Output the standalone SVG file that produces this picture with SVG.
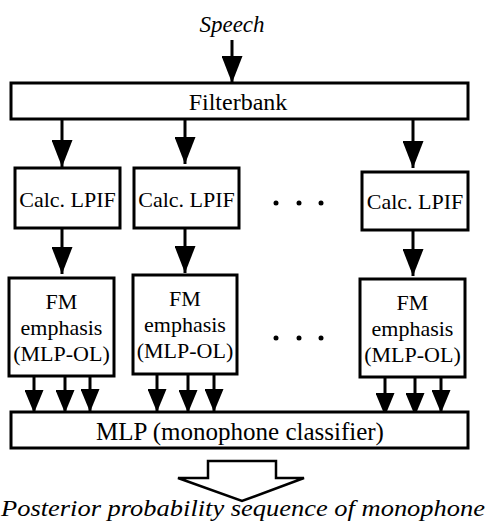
<svg xmlns="http://www.w3.org/2000/svg" width="486" height="524" viewBox="0 0 486 524">
<style>
.box{fill:#fff;stroke:#000;stroke-width:3}
.ln{stroke:#000;stroke-width:3;fill:none}
.t{font-family:'Liberation Serif','DejaVu Serif',serif;fill:#000;text-anchor:middle}
.dot{fill:#000}
</style>
<defs>
<marker id="ah" markerUnits="userSpaceOnUse" markerWidth="27" markerHeight="21" viewBox="0 0 27 21" refX="27" refY="10.5" orient="auto">
<path d="M0,0 L27,10.5 L0,21 Z" fill="#000"/>
</marker>
<marker id="as" markerUnits="userSpaceOnUse" markerWidth="23" markerHeight="19" viewBox="0 0 23 19" refX="23" refY="9.5" orient="auto">
<path d="M0,0 L23,9.5 L0,19 Z" fill="#000"/>
</marker>
</defs>
<g id="connectors">
<line class="ln" x1="232" y1="40" x2="232" y2="83" marker-end="url(#ah)"/>
<line class="ln" x1="62" y1="119" x2="62" y2="167" marker-end="url(#ah)"/>
<line class="ln" x1="185" y1="119" x2="185" y2="164" marker-end="url(#ah)"/>
<line class="ln" x1="413" y1="119" x2="413" y2="168" marker-end="url(#ah)"/>
<line class="ln" x1="62" y1="228" x2="62" y2="274" marker-end="url(#ah)"/>
<line class="ln" x1="185" y1="228" x2="185" y2="273" marker-end="url(#ah)"/>
<line class="ln" x1="413" y1="230" x2="413" y2="276" marker-end="url(#ah)"/>
<line class="ln" x1="34" y1="376" x2="34" y2="413" marker-end="url(#as)"/>
<line class="ln" x1="65" y1="376" x2="65" y2="413" marker-end="url(#as)"/>
<line class="ln" x1="90" y1="376" x2="90" y2="412" marker-end="url(#as)"/>
<line class="ln" x1="157" y1="374" x2="157" y2="412" marker-end="url(#as)"/>
<line class="ln" x1="188" y1="374" x2="188" y2="413" marker-end="url(#as)"/>
<line class="ln" x1="214" y1="374" x2="214" y2="412" marker-end="url(#as)"/>
<line class="ln" x1="385" y1="377" x2="385" y2="416" marker-end="url(#as)"/>
<line class="ln" x1="415" y1="377" x2="415" y2="416" marker-end="url(#as)"/>
<line class="ln" x1="441" y1="377" x2="441" y2="413" marker-end="url(#as)"/>
<path d="M208,461 L276,461 L276,478 L304,478 L242,501 L178,478 L208,478 Z" fill="#fff" stroke="#000" stroke-width="2.5" stroke-linejoin="miter"/>
</g>
<g id="speech"><text class="t" x="232" y="32" font-size="23" font-style="italic" font-family="Liberation Serif, serif">Speech</text></g>
<g id="filterbank">
<rect class="box" x="11" y="83" width="457" height="36"/>
<text class="t" x="238" y="110" font-size="24" font-family="Liberation Serif, serif">Filterbank</text>
</g>
<g id="lpif1"><rect class="box" x="15" y="168" width="105" height="60"/><text class="t" x="67.5" y="207" font-size="22" font-family="Liberation Serif, serif">Calc. LPIF</text></g>
<g id="lpif2"><rect class="box" x="134" y="168" width="105" height="60"/><text class="t" x="186.5" y="207" font-size="22" font-family="Liberation Serif, serif">Calc. LPIF</text></g>
<g id="lpif3"><rect class="box" x="362" y="172" width="106" height="58"/><text class="t" x="415" y="209" font-size="22" font-family="Liberation Serif, serif">Calc. LPIF</text></g>
<g id="dots1"><circle class="dot" cx="276" cy="203" r="2.5"/><circle class="dot" cx="299" cy="203" r="2.5"/><circle class="dot" cx="321" cy="203" r="2.5"/></g>
<g id="fm1"><rect class="box" x="9" y="278" width="105" height="98"/>
<text class="t" x="61.5" y="309" font-size="22" font-family="Liberation Serif, serif">FM</text><text class="t" x="61.5" y="335" font-size="22" font-family="Liberation Serif, serif">emphasis</text><text class="t" x="61.5" y="361" font-size="22" font-family="Liberation Serif, serif">(MLP-OL)</text></g>
<g id="fm2"><rect class="box" x="133" y="275" width="104" height="99"/>
<text class="t" x="185" y="306" font-size="22" font-family="Liberation Serif, serif">FM</text><text class="t" x="185" y="332" font-size="22" font-family="Liberation Serif, serif">emphasis</text><text class="t" x="185" y="358" font-size="22" font-family="Liberation Serif, serif">(MLP-OL)</text></g>
<g id="fm3"><rect class="box" x="360" y="279" width="105" height="98"/>
<text class="t" x="412.5" y="310" font-size="22" font-family="Liberation Serif, serif">FM</text><text class="t" x="412.5" y="336" font-size="22" font-family="Liberation Serif, serif">emphasis</text><text class="t" x="412.5" y="362" font-size="22" font-family="Liberation Serif, serif">(MLP-OL)</text></g>
<g id="dots2"><circle class="dot" cx="276" cy="338" r="2.5"/><circle class="dot" cx="299" cy="338" r="2.5"/><circle class="dot" cx="321" cy="338" r="2.5"/></g>
<g id="mlp"><rect class="box" x="11" y="412" width="457" height="36"/>
<text class="t" x="240" y="440" font-size="25" font-family="Liberation Serif, serif">MLP (monophone classifier)</text></g>
<g id="posterior"><text class="t" x="243" y="516" font-size="23" font-style="italic" font-family="Liberation Serif, serif" textLength="484" lengthAdjust="spacingAndGlyphs">Posterior probability sequence of monophone</text></g>
</svg>
